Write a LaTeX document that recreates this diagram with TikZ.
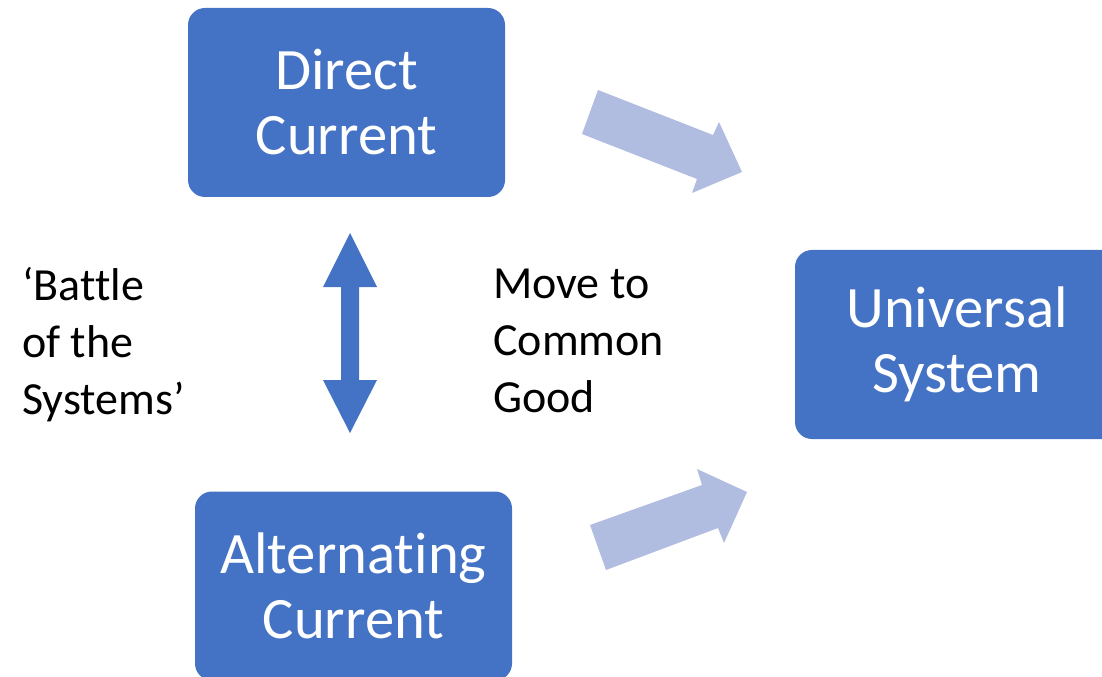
\documentclass[tikz,border=0pt]{standalone}
\usepackage{fontspec}
\setmainfont{Carlito}[Ligatures=NoCommon]
\definecolor{boxblue}{HTML}{4472C4}
\definecolor{lightblue}{HTML}{B0BDE0}
\begin{document}
\begin{tikzpicture}[x=0.75pt,y=-0.75pt,
  bigbox/.style={rounded corners=12.75pt, fill=boxblue, text=white, align=center,
    font=\fontsize{44}{48.75}\selectfont, minimum width=237.75pt, minimum height=141.75pt, inner sep=0pt},
  sidetext/.style={align=left, font=\fontsize{34.5}{42.75}\selectfont, inner sep=0pt, anchor=west},
  blockarrow/.style={fill=lightblue, draw=none},
  dblarrow/.style={fill=boxblue, draw=none}]
\useasboundingbox (0,0) rectangle (1102,677);
\node[bigbox] (dc) at (346.5,102.5) {Direct\\Current};
\node[bigbox] (ac) at (353.5,586) {Alternating\\Current};
\node[bigbox, minimum width=243pt] (us) at (957,344.5) {Universal\\System};
\node[sidetext] (battle) at (22,345) {‘Battle\\of the\\Systems’};
\node[sidetext] (move) at (493,341) {Move to\\Common\\Good};
% double arrow between DC and AC
\fill[dblarrow] (350,233) -- (377,287) -- (359,287) -- (359,380) -- (377,380) -- (350,433)
  -- (323,380) -- (341,380) -- (341,287) -- (323,287) -- cycle;
% block arrows toward the universal system
\fill[blockarrow] (598,90) -- (713,135) -- (719,122) -- (742,172) -- (692,193) -- (697,179) -- (582,134) -- cycle;
\fill[blockarrow] (590,525) -- (702,485) -- (697,469) -- (747,492) -- (724,543) -- (718,528) -- (606,570) -- cycle;
\end{tikzpicture}
\end{document}
